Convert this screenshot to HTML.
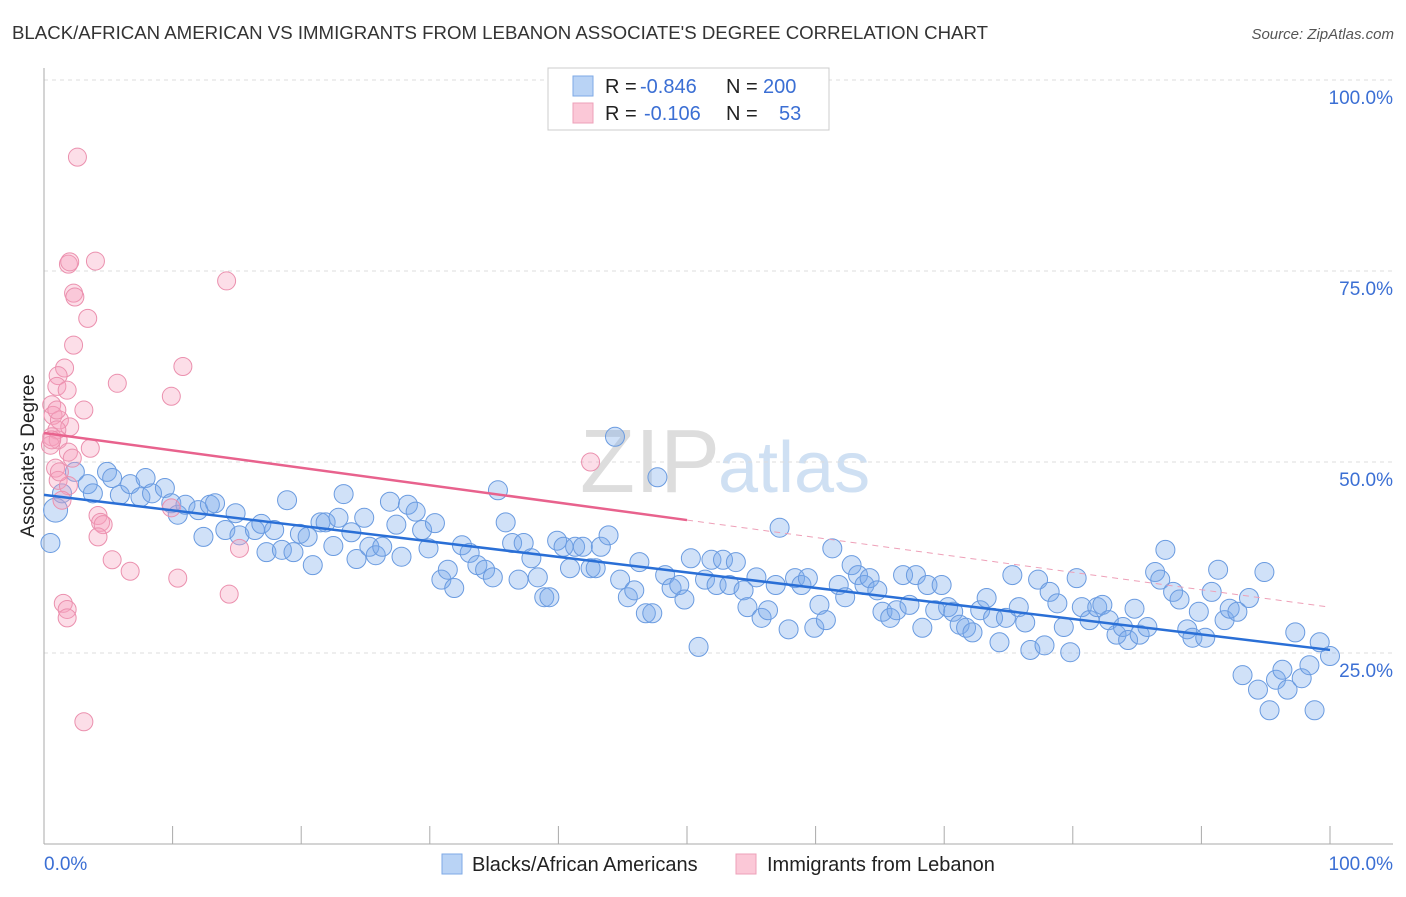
<!DOCTYPE html>
<html><head><meta charset="utf-8"><style>
body{margin:0;background:#fff;font-family:"Liberation Sans",sans-serif;}
svg text{font-family:"Liberation Sans",sans-serif;}
</style></head><body>
<svg id="chart" width="1406" height="892">
<text x="12" y="39" font-size="18" fill="#333" textLength="976" lengthAdjust="spacingAndGlyphs">BLACK/AFRICAN AMERICAN VS IMMIGRANTS FROM LEBANON ASSOCIATE'S DEGREE CORRELATION CHART</text>
<text x="1394" y="39" font-size="15" fill="#555" font-style="italic" text-anchor="end">Source: ZipAtlas.com</text>
<text x="720" y="492" font-size="90" fill="#ddd" text-anchor="end" font-family="Liberation Serif">ZIP</text>
<text x="718" y="492" font-size="72" fill="#cfe0f3">atlas</text>
<g id="grid"></g><g id="axes"></g><g id="pts"></g><g id="trend"></g>
<text transform="translate(34,456) rotate(-90)" font-size="19" fill="#222" text-anchor="middle">Associate's Degree</text>
<g>
<rect x="548" y="68" width="281" height="62" fill="#fff" stroke="#ccc"/>
<rect x="573" y="76" width="20" height="20" fill="#b9d3f5" stroke="#7ea9e6"/>
<rect x="573" y="103" width="20" height="20" fill="#fbc8d7" stroke="#eea0b8"/>
<text x="605" y="93" font-size="20" fill="#222">R = <tspan fill="#3b6fd4" x="640">-0.846</tspan><tspan x="726">N = </tspan><tspan fill="#3b6fd4" x="763">200</tspan></text>
<text x="605" y="120" font-size="20" fill="#222">R = <tspan fill="#3b6fd4" x="644">-0.106</tspan><tspan x="726">N = </tspan><tspan fill="#3b6fd4" x="779">53</tspan></text>
</g>
<g>
<rect x="442" y="854" width="20" height="20" fill="#b9d3f5" stroke="#7ea9e6"/>
<text x="472" y="871" font-size="20" fill="#222">Blacks/African Americans</text>
<rect x="736" y="854" width="20" height="20" fill="#fbc8d7" stroke="#eea0b8"/>
<text x="767" y="871" font-size="20" fill="#222">Immigrants from Lebanon</text>
</g>
<text x="44" y="870" font-size="19" fill="#3b6fd4">0.0%</text>
<text x="1393" y="870" font-size="19" fill="#3b6fd4" text-anchor="end">100.0%</text>
</svg>
<script>
const blueX=[0.9,0.5,1.4,2.4,3.4,3.8,4.9,5.3,5.9,6.7,7.5,7.9,8.4,9.4,9.9,10.4,11,12,12.4,12.9,13.3,14.9,14.1,15.2,16.4,16.9,17.3,17.9,18.5,18.9,19.4,19.9,20.5,20.9,21.5,21.9,22.5,22.9,23.3,23.9,24.3,24.9,25.3,25.8,26.3,26.9,27.4,27.8,28.3,28.9,29.4,29.9,30.4,30.9,31.4,31.9,32.5,33.1,33.7,34.3,34.9,35.3,35.9,36.4,36.9,37.3,37.9,38.4,38.9,39.3,39.9,40.4,40.9,41.3,41.9,42.5,42.9,43.3,43.9,44.4,44.8,45.4,45.9,46.3,46.8,47.3,47.7,48.3,48.8,49.4,49.8,50.3,50.9,51.4,51.9,52.3,52.8,53.3,53.8,54.4,54.7,55.4,55.8,56.3,56.9,57.2,57.9,58.4,58.9,59.4,59.9,60.3,60.8,61.3,61.8,62.3,62.8,63.3,63.8,64.2,64.8,65.2,65.8,66.3,66.8,67.3,67.8,68.3,68.7,69.3,69.8,70.3,70.7,71.2,71.7,72.2,72.8,73.3,73.8,74.3,74.8,75.3,75.8,76.3,76.7,77.3,77.8,78.2,78.8,79.3,79.8,80.3,80.7,81.3,81.9,82.3,82.8,83.4,83.9,84.3,84.8,85.2,85.8,86.4,86.8,87.2,87.8,88.3,88.9,89.3,89.8,90.3,90.8,91.3,91.8,92.2,92.8,93.2,93.7,94.4,94.9,95.3,95.8,96.3,96.7,97.3,97.8,98.4,98.8,99.2,100];
const blueY=[43.7,39.4,45.9,48.7,47.1,45.9,48.7,47.9,45.7,47.1,45.4,47.9,45.9,46.6,44.6,43.1,44.4,43.7,40.2,44.4,44.6,43.3,41.1,40.4,41.1,41.9,38.2,41.1,38.5,45,38.2,40.6,40.2,36.5,42.1,42.1,39,42.7,45.8,40.8,37.3,42.7,38.9,37.8,38.9,44.8,41.8,37.6,44.4,43.5,41.1,38.7,42,34.6,35.9,33.5,39.1,38.1,36.5,35.9,34.9,46.3,42.1,39.4,34.6,39.4,37.4,34.9,32.3,32.3,39.7,38.9,36.1,38.9,38.9,36.1,36.1,38.9,40.4,53.3,34.6,32.3,33.2,36.9,30.2,30.2,48,35.2,33.5,33.9,32,37.4,25.8,34.6,37.2,33.9,37.2,33.9,36.9,33.2,31,34.9,29.6,30.6,33.9,41.4,28.1,34.8,33.9,34.8,28.3,31.3,29.3,38.7,33.9,32.3,36.5,35.2,33.9,34.8,33.2,30.4,29.6,30.6,35.2,31.3,35.2,28.3,33.9,30.6,33.9,31,30.4,28.7,28.3,27.7,30.6,32.2,29.6,26.4,29.6,35.2,31,29,25.4,34.6,26,33,31.5,28.4,25.1,34.8,31,29.3,31,31.3,29.3,27.4,28.4,26.7,30.8,27.4,28.4,35.6,34.6,38.5,33,32,28.1,27,30.4,27,33,35.9,29.3,30.8,30.4,22.1,32.2,20.2,35.6,17.5,21.5,22.8,20.2,27.7,21.7,23.4,17.5,26.4,24.6];
const pinkX=[2.6,1.9,2.0,4.0,14.2,2.3,2.4,3.4,2.3,10.8,1.6,1.1,5.7,1.0,1.8,9.9,0.6,3.1,0.7,1.2,2.0,1.0,0.6,1.1,0.5,3.6,1.9,42.5,2.2,0.9,1.1,1.9,1.4,9.9,4.2,4.4,4.6,4.2,15.2,5.3,6.7,10.4,14.4,1.5,1.8,1.8,3.1,0.6,1.0,1.2];
const pinkY=[89.9,75.9,76.2,76.3,73.7,72.1,71.6,68.8,65.3,62.5,62.3,61.3,60.3,59.9,59.4,58.6,57.5,56.8,56.1,55.5,54.6,54.2,53.3,52.9,52.2,51.8,51.3,50,50.5,49.2,47.6,46.9,45,44,43,42.1,41.8,40.2,38.7,37.2,35.7,34.8,32.7,31.5,30.7,29.6,16,52.9,56.8,48.7];
const blueTrend=[45.7,25.4];
const pinkTrend=[53.8,31.0];
const yTicks=[25,50,75,100];
const yTickLabels=["25.0%","50.0%","75.0%","100.0%"];
const xTicks=[0,10,20,30,40,50,60,70,80,90,100];
const NS="http://www.w3.org/2000/svg";
const X=v=>44+v*12.86, Y=v=>844-v*7.64;
function mk(t,a,p){const e=document.createElementNS(NS,t);for(const k in a)e.setAttribute(k,a[k]);p.appendChild(e);return e;}
const grid=document.getElementById('grid'),axes=document.getElementById('axes'),pts=document.getElementById('pts'),tr=document.getElementById('trend');
yTicks.forEach((v,i)=>{
 const l=mk('line',{x1:44,x2:1393,y1:Y(v),y2:Y(v),stroke:'#ddd','stroke-dasharray':'4,4'},grid);
 
 
 const t=mk('text',{x:1393,y:Y(v)+24,'font-size':19,fill:'#3b6fd4','text-anchor':'end'},grid);
 t.textContent=yTickLabels[i];
 
 
});
const ax=mk('line',{x1:44,x2:1393,y1:844,y2:844,stroke:'#aaa'},axes);


const ay=mk('line',{x1:44,x2:44,y1:68,y2:844,stroke:'#aaa'},axes);


xTicks.forEach(v=>{
 const t=mk('line',{x1:X(v),x2:X(v),y1:826,y2:844,stroke:'#aaa'},axes);
 
 
});
blueX.forEach((x,i)=>{
 const c=mk('circle',{cx:X(x),cy:Y(blueY[i]),r:i==0?12:9.5,fill:'rgba(120,170,235,0.35)',stroke:'#6a9be0','stroke-width':1},pts);
 
 
});
pinkX.forEach((x,i)=>{
 const c=mk('circle',{cx:X(x),cy:Y(pinkY[i]),r:9,fill:'rgba(245,160,190,0.35)',stroke:'#eb90ae','stroke-width':1},pts);
 
 
});
const bl=mk('line',{x1:X(0),y1:Y(blueTrend[0]),x2:X(100),y2:Y(blueTrend[1]),stroke:'#2a6fd6','stroke-width':2.5},tr);


const pm=pinkTrend[0]+(pinkTrend[1]-pinkTrend[0])*0.5;
const pl=mk('line',{x1:X(0),y1:Y(pinkTrend[0]),x2:X(50),y2:Y(pm),stroke:'#e8628d','stroke-width':2.5},tr);


const pd=mk('line',{x1:X(50),y1:Y(pm),x2:X(100),y2:Y(pinkTrend[1]),stroke:'#eea0b8','stroke-width':1,'stroke-dasharray':'6,5'},tr);


</script>
</body></html>
